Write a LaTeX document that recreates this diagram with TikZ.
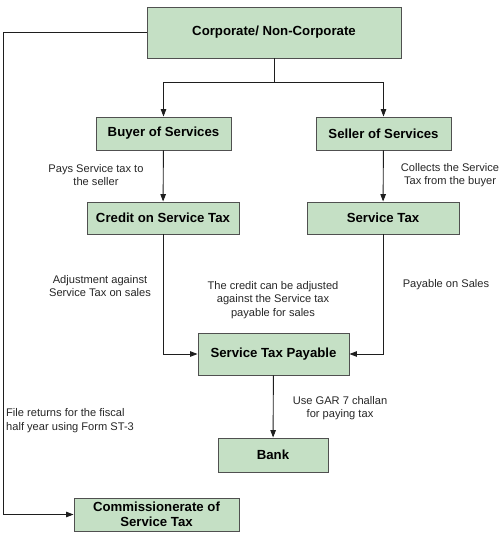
\documentclass[tikz,border=0pt]{standalone}
\usepackage{fontspec}
\setmainfont{Liberation Sans}
\usetikzlibrary{arrows.meta}
\definecolor{boxfill}{RGB}{197,224,197}
\definecolor{boxline}{RGB}{80,80,80}
\definecolor{linecol}{RGB}{30,30,30}
\begin{document}
\begin{tikzpicture}[x=1pt,y=-1pt,
  box/.style={draw=boxline,fill=boxfill,line width=0.9pt,inner sep=0pt,font=\fontsize{13.2}{15}\selectfont\bfseries,align=center},
  lbl/.style={font=\fontsize{11.1}{13.5}\selectfont,align=center,inner sep=0pt,text=black!85},
  conn/.style={draw=linecol,line width=0.9pt},
  arr/.style={conn,-{Triangle[length=7.5pt,width=5.5pt]}}]
\useasboundingbox (0,0) rectangle (503,536);
\node[box,minimum width=254pt,minimum height=51pt] (corp) at (274,32.5) {Corporate/ Non-Corporate};
\node[box,minimum width=135pt,minimum height=33pt] (buyer) at (163.5,133.5) {Buyer of Services};
\node[box,minimum width=135pt,minimum height=33pt] (seller) at (383.5,133.5) {Seller of Services};
\node[box,minimum width=152pt,minimum height=32pt] (credit) at (163,218) {Credit on Service Tax};
\node[box,minimum width=152pt,minimum height=32pt] (stax) at (383,218) {Service Tax};
\node[box,minimum width=151pt,minimum height=42pt] (pay) at (273.5,354) {Service Tax Payable};
\node[box,minimum width=110pt,minimum height=34pt] (bank) at (273,455) {Bank};
\node[box,minimum width=165pt,minimum height=33pt,font=\fontsize{13.2}{15.5}\selectfont\bfseries] (comm) at (156.5,514.5) {Commissionerate of\\Service Tax};

\coordinate (split) at (274,82);
\coordinate (topleft) at (3.5,32.5);
\coordinate (botleft) at (3.5,514.5);

\draw[conn] (corp.south) -- (split);
\draw[arr] (split) -| (buyer.north);
\draw[arr] (split) -| (seller.north);
\draw[arr] (buyer) -- (credit);
\draw[arr] (seller) -- (stax);
\draw[arr] (credit.south) |- (pay.west);
\draw[arr] (stax.south) |- (pay.east);
\draw[arr] (pay) -- (bank);
\draw[arr] (corp.west) -- (topleft) -- (botleft) -- (comm.west);

\node[lbl] (l1) at (96,175) {Pays Service tax to\\the seller};
\node[lbl] (l2) at (450,175) {Collects the Service\\Tax from the buyer};
\node[lbl] (l3) at (100,286) {Adjustment against\\Service Tax on sales};
\node[lbl] (l4) at (273,300) {The credit can be adjusted\\against the Service tax\\payable for sales};
\node[lbl] (l5) at (446,285) {Payable on Sales};
\node[lbl] (l6) at (340,408) {Use GAR 7 challan\\for paying tax};
\node[lbl,align=left,anchor=west] (l7) at (6,420.5) {File returns for the fiscal\\half year using Form ST-3};
\end{tikzpicture}
\end{document}
